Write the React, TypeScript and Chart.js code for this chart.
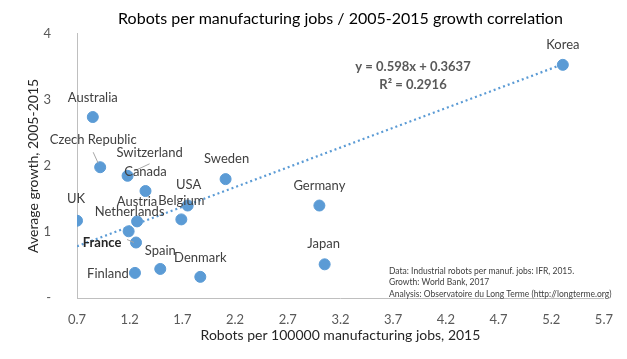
import { useEffect, useRef } from "react";
import { Chart, registerables } from "chart.js";

Chart.register(...registerables);

// ---- data ----
const countries = [
  "Korea", "Australia", "Czech Republic", "Switzerland", "Canada", "Sweden",
  "USA", "Belgium", "Austria", "Netherlands", "France", "UK", "Spain",
  "Finland", "Denmark", "Germany", "Japan",
];
const robotsPer100k = [
  5.31, 0.85, 0.92, 1.18, 1.35, 2.11,
  1.75, 1.69, 1.27, 1.19, 1.26, 0.70, 1.49,
  1.25, 1.87, 3.0, 3.05,
];
const avgGrowth = [
  3.53, 2.74, 1.98, 1.85, 1.62, 1.80,
  1.40, 1.19, 1.16, 1.01, 0.84, 1.17, 0.44,
  0.38, 0.32, 1.40, 0.51,
];
const xTicks = [0.7, 1.2, 1.7, 2.2, 2.7, 3.2, 3.7, 4.2, 4.7, 5.2, 5.7];
const yTicks = [0, 1, 2, 3, 4];
const trendSlope = 0.598;
const trendIntercept = 0.3637;
const equationLines = ["y = 0.598x + 0.3637", "R² = 0.2916"];
const sourceLines = [
  "Data: Industrial robots per manuf. jobs: IFR, 2015.",
  "Growth: World Bank, 2017",
  "Analysis: Observatoire du Long Terme (http://longterme.org)",
];
const chartTitle = "Robots per manufacturing jobs / 2005-2015 growth correlation";
const xTitle = "Robots per 100000 manufacturing jobs, 2015";
const yTitle = "Average growth, 2005-2015";

// ---- label layout (pixel offsets from each point) ----
type Placement = { dx: number; dy: number; bold?: boolean; leader?: [number, number, number, number] };
const labelPlacement: Record<string, Placement> = {
  Korea: { dx: 0, dy: -20 },
  Australia: { dx: 0, dy: -19 },
  "Czech Republic": { dx: -7, dy: -27, leader: [-7, -15, -2, -4] },
  Switzerland: { dx: 22, dy: -23, leader: [22, -12, 7, -5] },
  Canada: { dx: 0, dy: -19 },
  Sweden: { dx: 1, dy: -20 },
  USA: { dx: 1, dy: -21 },
  Belgium: { dx: 0, dy: -19 },
  Austria: { dx: 0, dy: -20 },
  Netherlands: { dx: 1, dy: -19 },
  France: { dx: -34, dy: 0, bold: true, leader: [-9, -3, -2, 0] },
  UK: { dx: -1, dy: -22 },
  Spain: { dx: 0, dy: -18 },
  Finland: { dx: -27, dy: 1 },
  Denmark: { dx: 0, dy: -19 },
  Germany: { dx: 0, dy: -20 },
  Japan: { dx: -1, dy: -21 },
};

const FONT = "Lato, 'Open Sans', sans-serif";
const BLUE = "#5B9BD5";

const labelPlugin = {
  id: "pointLabels",
  afterDatasetsDraw(chart: any) {
    const ctx = chart.ctx as CanvasRenderingContext2D;
    const meta = chart.getDatasetMeta(1);
    const area = chart.chartArea;
    ctx.save();
    ctx.textAlign = "center";
    ctx.textBaseline = "middle";
    meta.data.forEach((el: any, i: number) => {
      const name = countries[i];
      const p = labelPlacement[name] || { dx: 0, dy: -20 };
      if (p.leader) {
        ctx.strokeStyle = "#A6A6A6";
        ctx.lineWidth = 1;
        ctx.beginPath();
        ctx.moveTo(el.x + p.leader[0], el.y + p.leader[1]);
        ctx.lineTo(el.x + p.leader[2], el.y + p.leader[3]);
        ctx.stroke();
      }
      ctx.font = `${p.bold ? "bold " : ""}13px ${FONT}`;
      ctx.fillStyle = p.bold ? "#262626" : "#404040";
      ctx.fillText(name, el.x + p.dx, el.y + p.dy);
    });
    // trendline equation
    ctx.font = `bold 13px ${FONT}`;
    ctx.fillStyle = "#595959";
    equationLines.forEach((t, i) => {
      ctx.fillText(t, area.left + 336, area.top + 33 + i * 18);
    });
    // source note
    ctx.font = `8.5px ${FONT}`;
    ctx.fillStyle = "#404040";
    ctx.textAlign = "left";
    sourceLines.forEach((t, i) => {
      ctx.fillText(t, area.left + 312, area.bottom - 27 + i * 11.5);
    });
    ctx.restore();
  },
};

export default function App() {
  const ref = useRef<HTMLCanvasElement | null>(null);
  useEffect(() => {
    if (!ref.current) return;
    const xMin = Math.min(...robotsPer100k);
    const xMax = Math.max(...robotsPer100k);
    const chart = new Chart(ref.current, {
      type: "scatter",
      data: {
        datasets: [
          {
            label: "Trend",
            data: [
              { x: xMin, y: trendSlope * xMin + trendIntercept },
              { x: xMax, y: trendSlope * xMax + trendIntercept },
            ],
            showLine: true,
            borderColor: BLUE,
            borderWidth: 2.2,
            borderDash: [2, 3],
            pointRadius: 0,
            order: 2,
          } as any,
          {
            label: "Countries",
            data: robotsPer100k.map((x, i) => ({ x, y: avgGrowth[i] })),
            backgroundColor: BLUE,
            borderColor: BLUE,
            pointRadius: 5.5,
            order: 1,
          },
        ],
      },
      options: {
        responsive: false,
        animation: false,
        events: [],
        layout: { padding: { left: 0, right: 18, top: 0, bottom: 0 } },
        plugins: {
          legend: { display: false },
          tooltip: { enabled: false },
          title: {
            display: true,
            text: chartTitle,
            fullSize: false,
            color: "#000000",
            font: { family: FONT, size: 16, weight: "normal" },
            padding: { top: 8, bottom: 5 },
          },
        },
        scales: {
          x: {
            type: "linear",
            min: 0.7,
            max: 5.7,
            afterBuildTicks: (s: any) => {
              s.ticks = xTicks.map((v) => ({ value: v }));
            },
            afterFit: (s: any) => {
              s.height = 61;
            },
            ticks: {
              callback: (v: any) => Number(v).toFixed(1),
              color: "#595959",
              font: { family: FONT, size: 13 },
              padding: 14,
              maxRotation: 0,
            },
            grid: { display: false, drawTicks: false },
            border: { display: true, color: "#BFBFBF", width: 1 },
            title: {
              display: true,
              text: xTitle,
              color: "#262626",
              font: { family: FONT, size: 14 },
              padding: { top: 0, bottom: 15.6 },
            },
          },
          y: {
            type: "linear",
            min: 0,
            max: 4,
            afterBuildTicks: (s: any) => {
              s.ticks = yTicks.map((v) => ({ value: v }));
            },
            afterFit: (s: any) => {
              s.width = 77;
            },
            ticks: {
              callback: (v: any) => (Number(v) === 0 ? "-" : String(v)),
              color: "#595959",
              font: { family: FONT, size: 13 },
              padding: 26,
            },
            grid: { display: false, drawTicks: false },
            border: { display: true, color: "#BFBFBF", width: 1 },
            title: {
              display: true,
              text: yTitle,
              color: "#262626",
              font: { family: FONT, size: 14 },
              padding: { top: 24.6, bottom: 0 },
            },
          },
        },
      },
      plugins: [labelPlugin],
    });
    return () => chart.destroy();
  }, []);
  return (
    <div style={{ position: "absolute", left: 0, top: 0, width: 627, height: 359, background: "#fff" }}>
      <canvas ref={ref} width={627} height={359} style={{ display: "block" }} />
    </div>
  );
}
